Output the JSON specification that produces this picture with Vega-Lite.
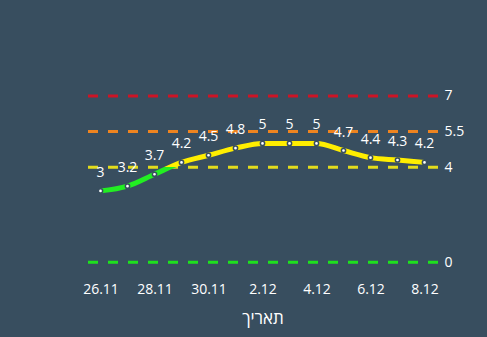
{
  "$schema": "https://vega.github.io/schema/vega-lite/v6.json",
  "autosize": {"type": "none"},
  "padding": {"left": 87, "top": 84, "right": 49, "bottom": 63},
  "width": 351,
  "height": 190,
  "background": "#384e5f",
  "config": {
    "view": {"stroke": null},
    "font": "Open Sans",
    "axis": {"grid": false, "domain": false, "ticks": false, "labelColor": "#ffffff", "titleColor": "#ffffff", "labelFont": "Open Sans", "titleFont": "Open Sans", "labelFontSize": 14, "titleFontWeight": "normal"}
  },
  "datasets": {
    "series": [
      {"date": "26.11", "value": 3},
      {"date": "27.11", "value": 3.2},
      {"date": "28.11", "value": 3.7},
      {"date": "29.11", "value": 4.2},
      {"date": "30.11", "value": 4.5},
      {"date": "1.12", "value": 4.8},
      {"date": "2.12", "value": 5},
      {"date": "3.12", "value": 5},
      {"date": "4.12", "value": 5},
      {"date": "5.12", "value": 4.7},
      {"date": "6.12", "value": 4.4},
      {"date": "7.12", "value": 4.3},
      {"date": "8.12", "value": 4.2}
    ],
    "levels": [
      {"level": 0},
      {"level": 4},
      {"level": 5.5},
      {"level": 7}
    ]
  },
  "layer": [
    {
      "data": {"name": "levels"},
      "mark": {"type": "rule", "strokeWidth": 3, "strokeDash": [10, 10]},
      "encoding": {
        "y": {"field": "level", "type": "quantitative", "scale": {"domain": [-0.5, 7.5], "nice": false, "zero": false},
          "axis": {"orient": "right", "values": [0, 4, 5.5, 7], "format": ".1~f", "labelPadding": 6, "title": null}},
        "color": {"field": "level", "type": "nominal", "scale": {"domain": [0, 4, 5.5, 7], "range": ["#1ee11e", "#e2dc1c", "#ee8420", "#cc1426"]}, "legend": null}
      }
    },
    {
      "data": {"name": "series"},
      "mark": {"type": "line", "strokeWidth": 5, "interpolate": "monotone",
        "stroke": {"gradient": "linear", "x1": 0, "y1": 0, "x2": 0, "y2": 1,
          "stops": [{"offset": 0, "color": "#ffee00"}, {"offset": 0.5, "color": "#ffee00"}, {"offset": 0.5, "color": "#22ee22"}, {"offset": 1, "color": "#22ee22"}]}},
      "encoding": {
        "x": {"field": "date", "type": "ordinal", "sort": null, "scale": {"type": "point", "padding": 0.5},
          "axis": {"values": ["26.11", "28.11", "30.11", "2.12", "4.12", "6.12", "8.12"], "labelAngle": 0, "labelPadding": 8, "title": "תאריך", "titleFontSize": 17, "titlePadding": 14}},
        "y": {"field": "value", "type": "quantitative"}
      }
    },
    {
      "data": {"name": "series"},
      "mark": {"type": "point", "filled": true, "size": 18, "fill": "#ffffff", "stroke": "#384e5f", "strokeWidth": 1.5, "opacity": 1},
      "encoding": {
        "x": {"field": "date", "type": "ordinal", "sort": null},
        "y": {"field": "value", "type": "quantitative"}
      }
    },
    {
      "data": {"name": "series"},
      "mark": {"type": "text", "color": "#ffffff", "fontSize": 14, "dy": -14, "baseline": "alphabetic", "align": "center"},
      "encoding": {
        "x": {"field": "date", "type": "ordinal", "sort": null},
        "y": {"field": "value", "type": "quantitative"},
        "text": {"field": "value", "type": "quantitative", "format": "~g"}
      }
    }
  ]
}
